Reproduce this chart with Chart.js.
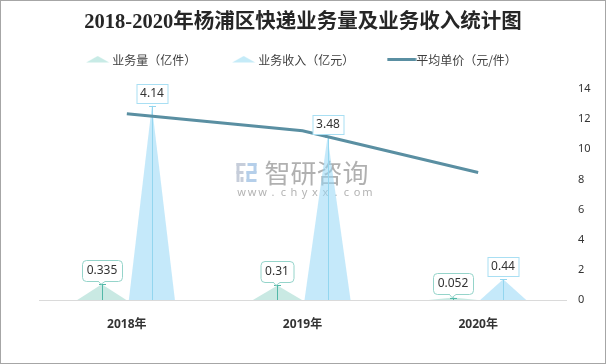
<!DOCTYPE html>
<html><head><meta charset="utf-8">
<script src="https://cdn.jsdelivr.net/npm/chart.js@4.4.1/dist/chart.umd.min.js"></script>
<style>html,body{margin:0;padding:0;background:#fff}#wrap{width:606px;height:364px;position:relative}</style>
</head><body><div id="wrap"><canvas id="c"></canvas></div>
<script>
const titleText = '2018-2020年杨浦区快递业务量及业务收入统计图';
const categories = ['2018年', '2019年', '2020年'];
const seriesNames = ['业务量（亿件）', '业务收入（亿元）', '平均单价（元/件）'];
const volume = [0.335, 0.31, 0.052];
const revenue = [4.14, 3.48, 0.44];
const unitPrice = [12.36, 11.23, 8.46];
const priceTicks = [0, 2, 4, 6, 8, 10, 12, 14];
const volumeAxisMax = 4.5;

const TRI = [
  {fill: 'rgba(120,200,185,0.40)', stem: '#52b8a8', box: '#95d4ca', round: true, wf: 0.98, icon: '#c8ebe6'},
  {fill: 'rgba(150,215,245,0.55)', stem: '#93d6ef', box: '#a9dff3', round: false, wf: 0.92, icon: '#c5ebf8'}
];
const LINE_COLOR = '#5a8fa2';

function triIcon(color) {
  const c = document.createElement('canvas'); c.width = 24; c.height = 14;
  const g = c.getContext('2d'); g.fillStyle = color;
  g.beginPath(); g.moveTo(0.5, 9.5); g.lineTo(12, 3); g.lineTo(23.5, 9.5); g.closePath(); g.fill();
  return c;
}
function lineIcon(color) {
  const c = document.createElement('canvas'); c.width = 30; c.height = 14;
  const g = c.getContext('2d'); g.fillStyle = color; g.fillRect(0.5, 5, 29, 3);
  return c;
}
const legendIcons = [triIcon(TRI[0].icon), triIcon(TRI[1].icon), lineIcon(LINE_COLOR)];

const watermark = {
  id: 'watermark',
  beforeDatasetsDraw(chart) {
    const ctx = chart.ctx, ca = chart.chartArea;
    const cx = (ca.left + ca.right) / 2;
    const lx = cx - 66, ty = 163;
    ctx.save();
    ctx.fillStyle = '#c6cdda';
    ctx.fillRect(lx, ty, 9, 3); ctx.fillRect(lx, ty, 3, 19); ctx.fillRect(lx, ty + 8, 7, 3);
    ctx.fillRect(lx + 4, ty + 14, 3, 5);
    ctx.fillStyle = '#b5cfea';
    ctx.fillRect(lx + 11, ty, 9, 3); ctx.fillRect(lx + 17, ty, 3, 10); ctx.fillRect(lx + 10, ty + 8, 10, 3);
    ctx.fillRect(lx + 10, ty + 8, 3, 11); ctx.fillRect(lx + 10, ty + 16, 10, 3);
    ctx.fillStyle = 'rgba(150,150,150,0.75)';
    ctx.font = '26px "Noto Sans CJK SC"';
    ctx.textBaseline = 'middle'; ctx.textAlign = 'left';
    ctx.fillText('智研咨询', cx - 38, ty + 10);
    ctx.font = '11px "Noto Sans"';
    ctx.fillStyle = 'rgba(160,160,160,0.8)';
    ctx.textAlign = 'center';
    const s = 'www.chyxx.com';
    for (let i = 0; i < s.length; i++) ctx.fillText(s[i], lx + 5 + i * 10.5, ty + 30);
    ctx.restore();
  }
};

const triangles = {
  id: 'triangles',
  beforeDatasetsDraw(chart) {
    const ctx = chart.ctx;
    ctx.save();
    [0, 1].forEach(di => {
      const st = TRI[di];
      chart.getDatasetMeta(di).data.forEach(bar => {
        const p = bar.getProps(['x', 'y', 'base', 'width'], true);
        const w = p.width * st.wf;
        ctx.fillStyle = st.fill;
        ctx.beginPath(); ctx.moveTo(p.x - w / 2, p.base); ctx.lineTo(p.x, p.y); ctx.lineTo(p.x + w / 2, p.base); ctx.closePath(); ctx.fill();
        const sx = Math.round(p.x) + 0.5;
        ctx.strokeStyle = st.stem; ctx.lineWidth = 1;
        ctx.beginPath(); ctx.moveTo(sx, p.base); ctx.lineTo(sx, p.y); ctx.stroke();
        ctx.beginPath(); ctx.moveTo(sx - 3.5, Math.round(p.y) + 0.5); ctx.lineTo(sx + 3.5, Math.round(p.y) + 0.5); ctx.stroke();
      });
    });
    ctx.restore();
  },
  afterDatasetsDraw(chart) {
    const ctx = chart.ctx;
    ctx.save();
    ctx.font = '12px "Noto Sans"';
    ctx.textAlign = 'center'; ctx.textBaseline = 'middle';
    [0, 1].forEach(di => {
      const st = TRI[di];
      const vals = chart.data.datasets[di].data;
      chart.getDatasetMeta(di).data.forEach((bar, i) => {
        const p = bar.getProps(['x', 'y'], true);
        const txt = String(vals[i]);
        const tw = ctx.measureText(txt).width;
        const x = Math.round(p.x);
        ctx.lineWidth = 1; ctx.strokeStyle = st.box; ctx.fillStyle = '#fff';
        let bw, bh, bottom;
        if (st.round) {
          bw = Math.round(tw + 9); bh = 21; bottom = Math.round(p.y - 3.5);
          const l = x - bw / 2 + 0.5, t = bottom - bh + 0.5;
          ctx.beginPath(); ctx.roundRect(l, t, bw, bh, 4); ctx.fill(); ctx.stroke();
          ctx.fillRect(x - 3, bottom - 1, 6, 2);
          ctx.beginPath(); ctx.moveTo(x - 3.5, bottom + 0.5); ctx.lineTo(x - 1, p.y); ctx.lineTo(x + 3, bottom + 0.5); ctx.fill(); ctx.stroke();
        } else {
          bw = Math.round(tw + 7); bh = 19; bottom = Math.round(p.y - 3);
          const l = x - bw / 2 + 0.5, t = bottom - bh + 0.5;
          ctx.fillRect(l, t, bw, bh); ctx.strokeRect(l, t, bw, bh);
        }
        ctx.fillStyle = '#333';
        ctx.fillText(txt, x, bottom - bh / 2 + 0.5);
      });
    });
    ctx.restore();
  },
  afterDraw(chart) {
    const ctx = chart.ctx;
    ctx.save(); ctx.strokeStyle = '#a6a6a6'; ctx.lineWidth = 1;
    ctx.strokeRect(0.5, 0.5, chart.width - 1, chart.height - 1); ctx.restore();
  }
};

new Chart(document.getElementById('c'), {
  type: 'bar',
  data: {
    labels: categories,
    datasets: [
      {label: seriesNames[0], data: volume, yAxisID: 'y', backgroundColor: 'rgba(0,0,0,0)', borderWidth: 0, categoryPercentage: 0.57, barPercentage: 1},
      {label: seriesNames[1], data: revenue, yAxisID: 'y', backgroundColor: 'rgba(0,0,0,0)', borderWidth: 0, categoryPercentage: 0.57, barPercentage: 1},
      {type: 'line', label: seriesNames[2], data: unitPrice, yAxisID: 'y1', borderColor: LINE_COLOR, borderWidth: 3, pointRadius: 0, tension: 0, fill: false}
    ]
  },
  options: {
    responsive: true, maintainAspectRatio: false, animation: false, events: [],
    layout: {padding: 0},
    scales: {
      x: {
        grid: {display: false, drawTicks: false},
        border: {display: true, color: '#dadada', width: 1},
        ticks: {color: '#333', padding: 17, font: {family: '"Noto Sans", "Noto Sans CJK SC"', size: 12, weight: 'bold'}},
        afterFit: s => { s.height = 64; }
      },
      y: {
        position: 'left', min: 0, max: volumeAxisMax,
        grid: {display: false, drawTicks: false}, border: {display: false}, ticks: {display: false},
        afterFit: s => { s.width = 39; }
      },
      y1: {
        position: 'right', min: 0, max: 14,
        grid: {display: false, drawTicks: false}, border: {display: false},
        ticks: {color: '#333', padding: 12, font: {family: '"Noto Sans"', size: 11}},
        afterBuildTicks: s => { s.ticks = priceTicks.map(v => ({value: v})); },
        afterFit: s => { s.width = 40; }
      }
    },
    plugins: {
      title: {display: true, text: titleText, color: '#262626',
        font: {family: '"Liberation Serif", "Noto Sans CJK SC"', size: 20.5, weight: 'bold', lineHeight: 1.2},
        padding: {top: 10.7, bottom: -20.3}},
      subtitle: {display: true, text: '', weight: 100, font: {size: 1, lineHeight: 1}, padding: {top: 12, bottom: 0}},
      legend: {display: true, position: 'top', align: 'center',
        labels: {usePointStyle: true, pointStyleWidth: 17, padding: 39, color: '#404040',
          font: {family: '"Noto Sans CJK SC"', size: 12},
          generateLabels: chart => [0, 1, 2].map(i => ({
            text: chart.data.datasets[i].label, pointStyle: legendIcons[i],
            fillStyle: 'rgba(0,0,0,0)', strokeStyle: 'rgba(0,0,0,0)', lineWidth: 0,
            hidden: false, datasetIndex: i, fontColor: '#404040'}))
        }},
      tooltip: {enabled: false}
    }
  },
  plugins: [watermark, triangles]
});
</script></body></html>
